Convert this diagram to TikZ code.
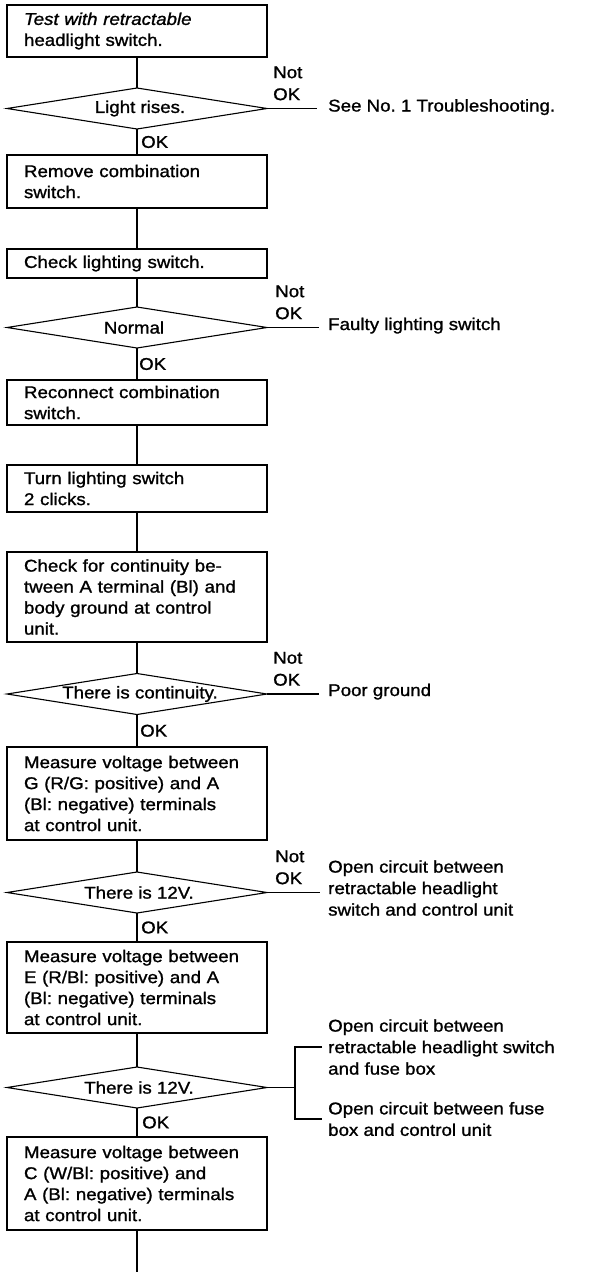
\documentclass[tikz,border=0pt]{standalone}
\usepackage{fontspec}
\setmainfont{Liberation Sans}[FakeStretch=1.1,FakeBold=1.2]
\usetikzlibrary{shapes.geometric,calc}
\frenchspacing
\begin{document}
\begin{tikzpicture}[x=1pt,y=-1pt,
  txt/.style={font=\fontsize{17}{21}\selectfont},
  stepbox/.style={txt, draw, line width=1.1pt, rectangle, anchor=north,
    minimum width=260pt, text width=226pt, align=left,
    inner xsep=17pt, inner ysep=0pt, outer sep=0pt},
  decision/.style={diamond, draw, line width=1.1pt, minimum width=260pt,
    minimum height=41pt, inner sep=0pt, outer sep=0pt},
  dtext/.style={txt, inner sep=0pt},
  oklab/.style={txt, anchor=west, inner sep=0pt},
  nok/.style={font=\fontsize{17}{22}\selectfont, align=left, anchor=south west, inner sep=0pt},
  res/.style={font=\fontsize{17}{21.5}\selectfont, align=left, inner sep=0pt},
  link/.style={line width=1.1pt}
]
\useasboundingbox (0,0) rectangle (596,1272);

% process steps
\node[stepbox, minimum height=52pt] (b1) at (137,5)
  {\textit{Test with retractable}\\headlight switch.};
\node[decision] (d1) at (137,108.5) {};
\node[dtext] (d1t) at (140,108.5) {Light rises.};
\node[stepbox, minimum height=53pt] (b2) at (137,155)
  {Remove combination\\switch.};
\node[stepbox, minimum height=29pt] (b3) at (137,249)
  {Check lighting switch.};
\node[decision] (d2) at (137,327.5) {};
\node[dtext] (d2t) at (134,327.5) {Normal};
\node[stepbox, minimum height=45pt] (b4) at (137,380)
  {Reconnect combination\\switch.};
\node[stepbox, minimum height=47pt] (b5) at (137,465)
  {Turn lighting switch\\2 clicks.};
\node[stepbox, minimum height=90pt] (b6) at (137,552)
  {Check for continuity be-\\tween A terminal (Bl) and\\body ground at control\\unit.};
\node[decision] (d3) at (137,694) {};
\node[dtext] (d3t) at (140,694) {There is continuity.};
\node[stepbox, minimum height=93pt] (b7) at (137,747)
  {Measure voltage between\\G (R/G: positive) and A\\(Bl: negative) terminals\\at control unit.};
\node[decision] (d4) at (137,892.5) {};
\node[dtext] (d4t) at (139,892.5) {There is 12V.};
\node[stepbox, minimum height=91pt] (b8) at (137,942)
  {Measure voltage between\\E (R/Bl: positive) and A\\(Bl: negative) terminals\\at control unit.};
\node[decision] (d5) at (137,1087.5) {};
\node[dtext] (d5t) at (139,1087.5) {There is 12V.};
\node[stepbox, minimum height=93pt] (b9) at (137,1137)
  {Measure voltage between\\C (W/Bl: positive) and\\A (Bl: negative) terminals\\at control unit.};
\coordinate (cont) at (137,1272);

% main flow
\draw[link] (b1) -- (d1);
\draw[link] (d1) -- (b2);
\draw[link] (b2) -- (b3);
\draw[link] (b3) -- (d2);
\draw[link] (d2) -- (b4);
\draw[link] (b4) -- (b5);
\draw[link] (b5) -- (b6);
\draw[link] (b6) -- (d3);
\draw[link] (d3) -- (b7);
\draw[link] (b7) -- (d4);
\draw[link] (d4) -- (b8);
\draw[link] (b8) -- (d5);
\draw[link] (d5) -- (b9);
\draw[link] (b9) -- (cont);

% OK labels
\node[oklab] (ok1) at ($(d1.south)!.5!(b2.north)+(4,0)$) {OK};
\node[oklab] (ok2) at ($(d2.south)!.5!(b4.north)+(2,0)$) {OK};
\node[oklab] (ok3) at ($(d3.south)!.5!(b7.north)+(3,0)$) {OK};
\node[oklab] (ok4) at ($(d4.south)!.5!(b8.north)+(4,0)$) {OK};
\node[oklab] (ok5) at ($(d5.south)!.5!(b9.north)+(5,0)$) {OK};

% Not OK branches
\node[nok] (n1) at ([xshift=6pt,yshift=8pt]d1.east) {Not\\OK};
\node[res, anchor=base west] (r1) at (328,111.5) {See No. 1 Troubleshooting.};
\draw[link, shorten >=11pt] (d1.east) -- (d1.east -| r1.west);

\node[nok] (n2) at ([xshift=8pt,yshift=8pt]d2.east) {Not\\OK};
\node[res, anchor=base west] (r2) at (328,330) {Faulty lighting switch};
\draw[link, shorten >=9pt] (d2.east) -- (d2.east -| r2.west);

\node[nok] (n3) at ([xshift=6pt,yshift=8pt]d3.east) {Not\\OK};
\node[res, anchor=base west] (r3) at (328,696) {Poor ground};
\draw[link, shorten >=9pt] (d3.east) -- (d3.east -| r3.west);

\node[nok] (n4) at ([xshift=8pt,yshift=8pt]d4.east) {Not\\OK};
\node[res, anchor=west] (r4) at (328,888)
  {Open circuit between\\retractable headlight\\switch and control unit};
\draw[link, shorten >=8pt] (d4.east) -- (d4.east -| r4.west);

% split branch
\node[res, anchor=west] (r5a) at (328,1047)
  {Open circuit between\\retractable headlight switch\\and fuse box};
\node[res, anchor=west] (r5b) at (328,1119)
  {Open circuit between fuse\\box and control unit};
\coordinate (j5) at ($(d5.east)+(28,0)$);
\draw[link] (d5.east) -- (j5);
\draw[link] ([xshift=-6pt]r5a.west) -| (j5) |- ([xshift=-6pt]r5b.west);
\end{tikzpicture}
\end{document}
